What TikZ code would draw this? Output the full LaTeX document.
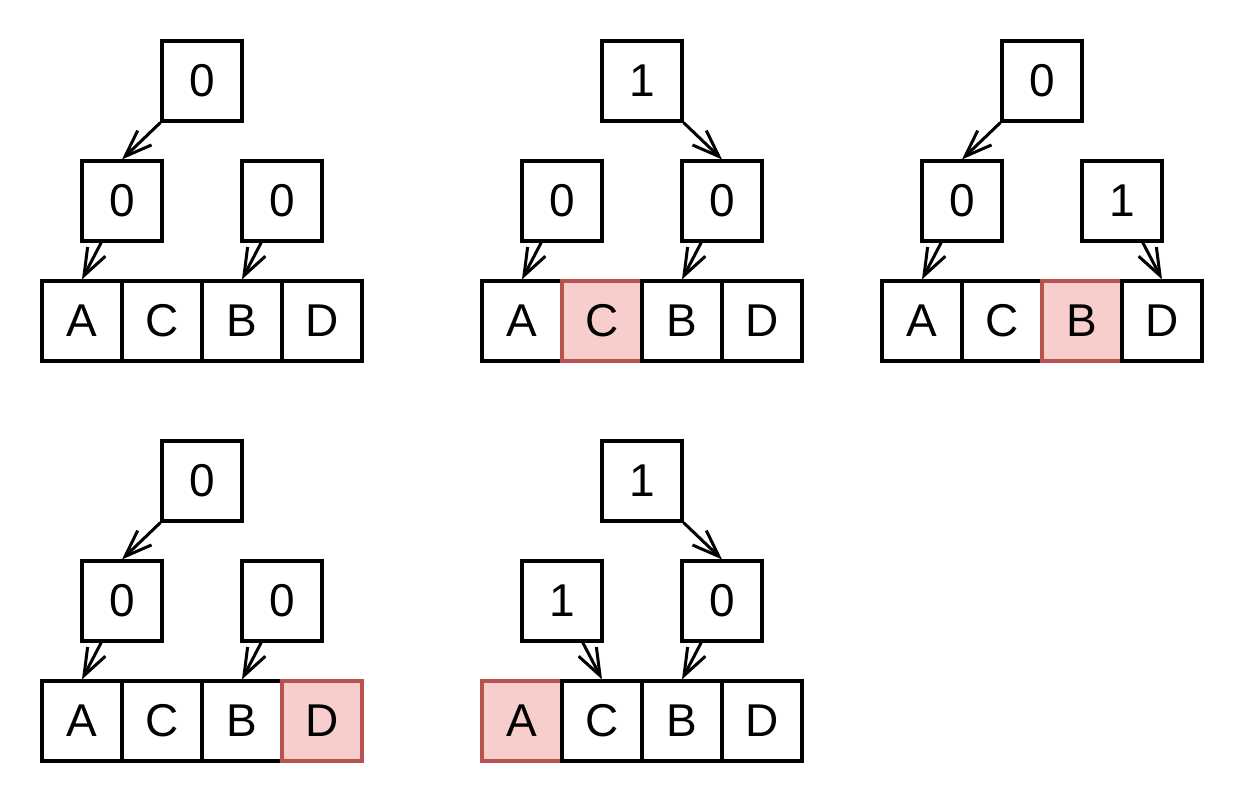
\documentclass[tikz,border=0pt]{standalone}
\usepackage{fontspec}
\setmainfont{Liberation Sans}
\usetikzlibrary{arrows.meta,calc}
\definecolor{hlfill}{HTML}{F8CECC}
\definecolor{hldraw}{HTML}{B85450}
\tikzset{
  box/.style={draw=black, fill=white, line width=3.2pt, minimum width=80pt, minimum height=80pt, inner sep=0pt, font=\fontsize{46}{46}\selectfont},
  hl/.style={fill=hlfill, draw=hldraw},
  conn/.style={line width=3pt, -{Straight Barb[length=27pt,width=20pt,line width=3pt]}},
}
\newcommand\tpanel[7]{%
\begin{scope}[shift={(#2,#3)},c1/.style={},c2/.style={},c3/.style={},c4/.style={},c#7/.style={hl}]
\node[box] (#1root) at (160,40) {#4};
\node[box] (#1l) at (80,160) {#5};
\node[box] (#1r) at (240,160) {#6};
\node[box,c1] (#1c1) at (40,280) {A};
\node[box,c2] (#1c2) at (120,280) {C};
\node[box,c3] (#1c3) at (200,280) {B};
\node[box,c4] (#1c4) at (280,280) {D};
\end{scope}}
\begin{document}
\begin{tikzpicture}[x=1pt,y=-1pt]
\useasboundingbox (0,0) rectangle (1244,804);
% panel 1
\tpanel{a}{42}{41}{0}{0}{0}{0}
\draw[conn] (aroot.south west) -- (al.north);
\draw[conn] ($(al.south west)!.25!(al.south east)$) -- (ac1.north);
\draw[conn] ($(ar.south west)!.25!(ar.south east)$) -- (ac3.north);
% panel 2
\tpanel{b}{482}{41}{1}{0}{0}{2}
\draw[conn] (broot.south east) -- (br.north);
\draw[conn] ($(bl.south west)!.25!(bl.south east)$) -- (bc1.north);
\draw[conn] ($(br.south west)!.25!(br.south east)$) -- (bc3.north);
% panel 3
\tpanel{c}{882}{41}{0}{0}{1}{3}
\draw[conn] (croot.south west) -- (cl.north);
\draw[conn] ($(cl.south west)!.25!(cl.south east)$) -- (cc1.north);
\draw[conn] ($(cr.south west)!.75!(cr.south east)$) -- (cc4.north);
% panel 4
\tpanel{d}{42}{441}{0}{0}{0}{4}
\draw[conn] (droot.south west) -- (dl.north);
\draw[conn] ($(dl.south west)!.25!(dl.south east)$) -- (dc1.north);
\draw[conn] ($(dr.south west)!.25!(dr.south east)$) -- (dc3.north);
% panel 5
\tpanel{e}{482}{441}{1}{1}{0}{1}
\draw[conn] (eroot.south east) -- (er.north);
\draw[conn] ($(el.south west)!.75!(el.south east)$) -- (ec2.north);
\draw[conn] ($(er.south west)!.25!(er.south east)$) -- (ec3.north);
\end{tikzpicture}
\end{document}
